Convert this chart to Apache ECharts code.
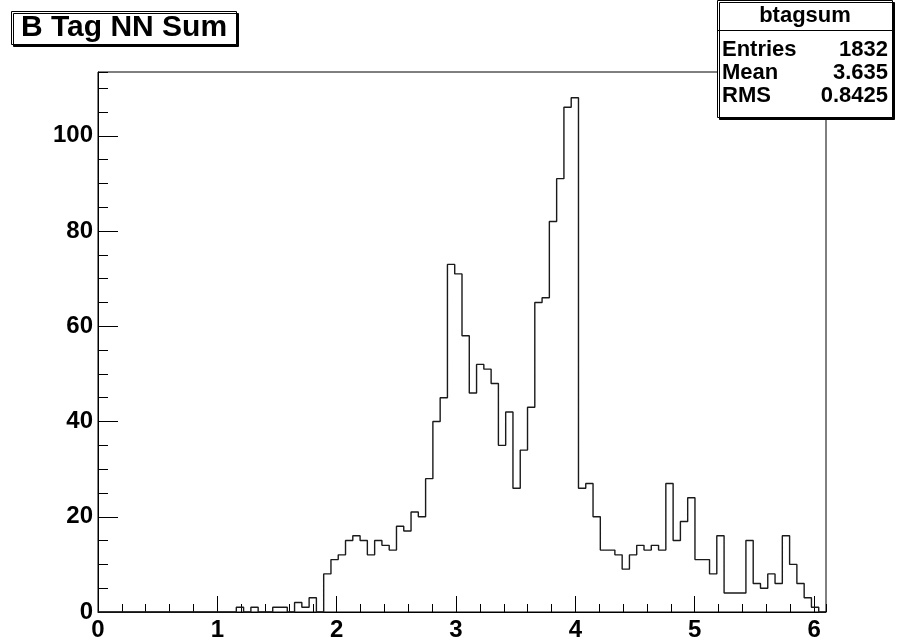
<!DOCTYPE html>
<html><head><meta charset="utf-8">
<script src="https://cdn.jsdelivr.net/npm/echarts@6/dist/echarts.min.js"></script>
<style>html,body{margin:0;padding:0;background:#fff}#c{width:910px;height:642px}</style>
</head><body><div id="c"></div>
<script>
// Histogram definition (100 bins from 0 to 6.1)
const xLow = 0;
const xHigh = 6.1;
const nBins = 100;
// Bin contents
const counts = [
  0,0,0,0,0,0,0,0,0,0, 0,0,0,0,0,0,0,0,0,1,
  0,1,0,0,1,1,0,2,1,3, 0,8,11,12,15,16,15,12,15,14,
  13,18,17,21,20,28,40,45,73,71, 58,46,52,51,48,35,42,26,34,43,
  65,66,82,91,106,108,26,27,20,13, 13,12,9,12,14,13,14,13,27,15,
  19,24,11,11,8,16,4,4,4,15, 6,5,8,6,16,10,6,3,1,0
];
const yMax = 113.4;
const xMajorTicks = 1;
const xMinorTicks = 0.2;
const yMajorTicks = 20;
const yMinorTicks = 5;
const titleText = 'B Tag NN Sum';
const statsName = 'btagsum';
const statsLabels = ['Entries', 'Mean', 'RMS'];
const statsValues = ['1832', '3.635', '0.8425'];

const binWidth = (xHigh - xLow) / nBins;
const stepData = counts.map((c, i) => [xLow + i * binWidth, c]);
stepData.push([xHigh, counts[counts.length - 1]]);

const FONT = "'Liberation Sans', Arial, Helvetica, sans-serif";
const chart = echarts.init(document.getElementById('c'), null, {renderer: 'canvas'});

const baseX = {
  type: 'value', min: xLow, max: xHigh, position: 'bottom',
  splitLine: {show: false}
};
const baseY = {
  type: 'value', min: 0, max: yMax, position: 'left',
  splitLine: {show: false}
};

const statsRowY = [50, 73, 96];
const graphics = [
  {type: 'rect', z: 100, shape: {x: 717.5, y: 0.5, width: 175, height: 117},
   style: {fill: '#fff', stroke: '#000', lineWidth: 1, shadowColor: '#000', shadowOffsetX: 2, shadowOffsetY: 2, shadowBlur: 0}},
  {type: 'line', z: 101, shape: {x1: 717.5, y1: 30.5, x2: 892.5, y2: 30.5}, style: {stroke: '#000', lineWidth: 1}},
  {type: 'text', z: 101, x: 805, y: 16, style: {text: statsName, font: 'bold 22px ' + FONT, fill: '#000', align: 'center', verticalAlign: 'middle'}}
];
statsLabels.forEach((lab, i) => {
  graphics.push({type: 'text', z: 101, x: 722, y: statsRowY[i], style: {text: lab, font: 'bold 22px ' + FONT, fill: '#000', align: 'left', verticalAlign: 'middle'}});
  graphics.push({type: 'text', z: 101, x: 888, y: statsRowY[i], style: {text: statsValues[i], font: 'bold 22px ' + FONT, fill: '#000', align: 'right', verticalAlign: 'middle'}});
});

chart.setOption({
  backgroundColor: '#fff',
  animation: false,
  title: {
    text: titleText, left: 11, top: 11, padding: [2, 10],
    backgroundColor: '#fff', borderColor: '#000', borderWidth: 1,
    shadowColor: '#000', shadowOffsetX: 2, shadowOffsetY: 2, shadowBlur: 0,
    textStyle: {fontFamily: FONT, fontWeight: 'bold', fontSize: 30, color: '#000'}
  },
  grid: {left: 98, right: 84, top: 72, bottom: 30, show: true, borderColor: '#000', borderWidth: 1,
         containLabel: false, outerBoundsMode: 'none'},
  xAxis: [
    Object.assign({}, baseX, {
      interval: xMajorTicks,
      axisLine: {show: true, onZero: false, lineStyle: {color: '#000', width: 1}},
      axisTick: {show: true, inside: true, length: 16, lineStyle: {color: '#000', width: 1}},
      axisLabel: {show: true, showMaxLabel: false, margin: 6, color: '#000', fontFamily: FONT, fontWeight: 'bold', fontSize: 24,
                  formatter: v => String(Math.round(v))}
    }),
    Object.assign({}, baseX, {
      interval: xMinorTicks,
      axisLine: {show: false},
      axisTick: {show: true, inside: true, length: 8, lineStyle: {color: '#000', width: 1}},
      axisLabel: {show: false}
    })
  ],
  yAxis: [
    Object.assign({}, baseY, {
      interval: yMajorTicks,
      axisLine: {show: true, onZero: false, lineStyle: {color: '#000', width: 1}},
      axisTick: {show: true, inside: true, length: 20, lineStyle: {color: '#000', width: 1}},
      axisLabel: {show: true, showMaxLabel: false, margin: 5, color: '#000', fontFamily: FONT, fontWeight: 'bold', fontSize: 24,
                  formatter: v => String(Math.round(v))}
    }),
    Object.assign({}, baseY, {
      interval: yMinorTicks,
      axisLine: {show: false},
      axisTick: {show: true, inside: true, length: 10, lineStyle: {color: '#000', width: 1}},
      axisLabel: {show: false}
    })
  ],
  series: [{
    type: 'line', xAxisIndex: 0, yAxisIndex: 0,
    step: 'end', data: stepData, showSymbol: false, symbol: 'none',
    lineStyle: {color: '#1a1a1a', width: 1.4}, clip: false, z: 3
  }],
  graphic: graphics
});
</script>
</body></html>
